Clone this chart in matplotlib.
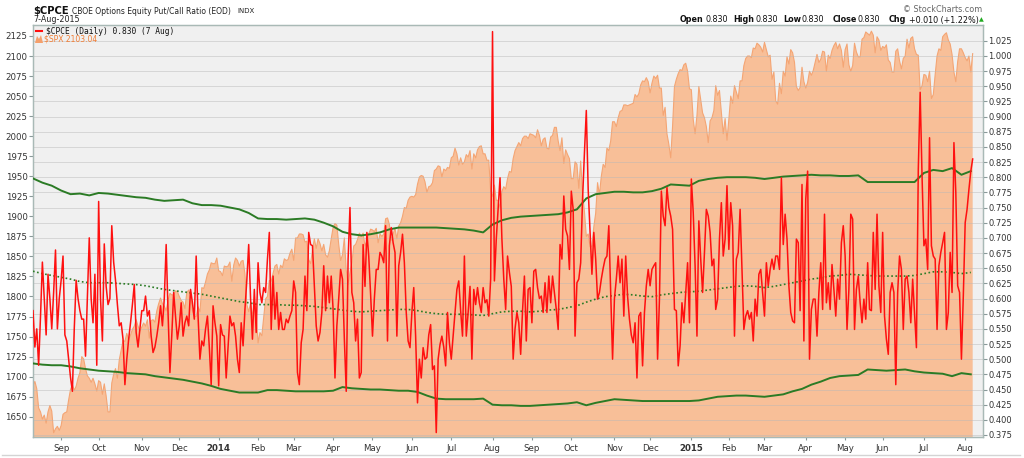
import matplotlib
matplotlib.use("Agg")
import matplotlib.pyplot as plt
from matplotlib.patches import Polygon
from matplotlib.lines import Line2D
import numpy as np
import pandas as pd

# --- calendrier des séances (NYSE) ---
first_day, last_day = "2013-08-12", "2015-08-07"
holidays = ["2013-09-02", "2013-11-28", "2013-12-25", "2014-01-01", "2014-01-20",
            "2014-02-17", "2014-04-18", "2014-05-26", "2014-07-04", "2014-09-01",
            "2014-11-27", "2014-12-25", "2015-01-01", "2015-01-19", "2015-02-16",
            "2015-04-03", "2015-05-25", "2015-07-03"]

# --- $SPX (échelle de gauche), une valeur par séance ---
spx_2013_08 = [1689, 1694, 1685, 1661, 1656, 1647, 1652, 1642, 1656, 1664, 1657, 1630, 1635, 1638, 1633]
spx_2013_09 = [1639, 1653, 1655, 1656, 1671, 1684, 1690, 1683, 1688, 1698, 1705, 1725, 1722, 1710, 1701,
               1698, 1693, 1698, 1691, 1682]
spx_2013_10 = [1695, 1693, 1678, 1691, 1676, 1656, 1656, 1692, 1703, 1710, 1698, 1721, 1733, 1745, 1744,
               1754, 1746, 1752, 1759, 1763, 1771, 1763, 1757]
spx_2013_11 = [1762, 1767, 1763, 1771, 1748, 1770, 1771, 1768, 1782, 1791, 1798, 1791, 1788, 1782, 1795,
               1804, 1802, 1802, 1807, 1806]
spx_2013_12 = [1800, 1795, 1793, 1785, 1805, 1808, 1802, 1782, 1776, 1775, 1787, 1781, 1811, 1810, 1818,
               1828, 1833, 1842, 1841, 1841, 1848]
spx_2014_01 = [1832, 1831, 1826, 1838, 1837, 1838, 1843, 1819, 1839, 1848, 1845, 1838, 1844, 1845, 1828,
               1790, 1781, 1792, 1774, 1794, 1783]
spx_2014_02 = [1742, 1755, 1751, 1774, 1797, 1800, 1820, 1819, 1829, 1838, 1840, 1828, 1839, 1836, 1847,
               1845, 1846, 1854, 1859]
spx_2014_03 = [1845, 1873, 1873, 1878, 1878, 1877, 1868, 1869, 1846, 1841, 1858, 1872, 1860, 1872, 1866,
               1857, 1865, 1852, 1849, 1857, 1872]
spx_2014_04 = [1886, 1891, 1889, 1865, 1845, 1852, 1873, 1833, 1815, 1830, 1842, 1863, 1865, 1871, 1879,
               1875, 1879, 1863, 1869, 1878, 1884]
spx_2014_05 = [1883, 1881, 1885, 1867, 1878, 1875, 1878, 1897, 1898, 1890, 1870, 1878, 1885, 1872, 1888,
               1892, 1900, 1911, 1910, 1920, 1924]
spx_2014_06 = [1925, 1924, 1927, 1940, 1949, 1951, 1950, 1943, 1930, 1937, 1938, 1942, 1957, 1959, 1963,
               1962, 1949, 1959, 1957, 1961, 1960]
spx_2014_07 = [1973, 1975, 1985, 1978, 1964, 1973, 1965, 1968, 1977, 1974, 1982, 1959, 1978, 1973, 1983,
               1987, 1988, 1978, 1978, 1970, 1970, 1931]
spx_2014_08 = [1925, 1939, 1920, 1920, 1910, 1931, 1937, 1934, 1947, 1956, 1955, 1972, 1982, 1987, 1992,
               1988, 1997, 2000, 2000, 1997, 2003]
spx_2014_09 = [2002, 2001, 1998, 2008, 2001, 1988, 1996, 1998, 1985, 1984, 1999, 2001, 2011, 2011, 1994,
               1982, 1998, 1966, 1983, 1977, 1972]
spx_2014_10 = [1947, 1947, 1968, 1965, 1935, 1969, 1928, 1906, 1875, 1878, 1862, 1863, 1887, 1904, 1942,
               1927, 1950, 1965, 1961, 1985, 1982, 1994, 2018]
spx_2014_11 = [2018, 2012, 2023, 2031, 2032, 2039, 2039, 2038, 2039, 2040, 2041, 2052, 2049, 2053, 2064,
               2069, 2068, 2073, 2068]
spx_2014_12 = [2054, 2066, 2075, 2072, 2076, 2060, 2060, 2026, 2036, 2003, 1990, 1973, 2013, 2062, 2071,
               2078, 2083, 2082, 2089, 2091, 2081, 2059]
spx_2015_01 = [2058, 2021, 2003, 2026, 2062, 2045, 2029, 2023, 2012, 1992, 2019, 2023, 2032, 2063, 2051,
               2057, 2030, 2003, 2022, 1995]
spx_2015_02 = [2021, 2050, 2041, 2063, 2055, 2047, 2069, 2069, 2088, 2097, 2100, 2100, 2098, 2110, 2109,
               2116, 2114, 2111, 2105]
spx_2015_03 = [2117, 2108, 2099, 2101, 2071, 2080, 2044, 2040, 2066, 2053, 2081, 2075, 2099, 2090, 2108,
               2104, 2092, 2062, 2057, 2061, 2086, 2068]
spx_2015_04 = [2060, 2067, 2081, 2076, 2082, 2092, 2102, 2092, 2096, 2106, 2105, 2081, 2101, 2097, 2107,
               2113, 2117, 2109, 2115, 2107, 2086]
spx_2015_05 = [2108, 2115, 2089, 2081, 2088, 2116, 2105, 2099, 2099, 2121, 2123, 2130, 2128, 2126, 2131,
               2126, 2104, 2124, 2120, 2107]
spx_2015_06 = [2112, 2110, 2114, 2095, 2092, 2080, 2080, 2106, 2109, 2094, 2084, 2097, 2100, 2121, 2110,
               2122, 2124, 2109, 2102, 2101, 2058, 2063]
spx_2015_07 = [2077, 2076, 2068, 2081, 2047, 2052, 2077, 2100, 2109, 2107, 2124, 2127, 2129, 2120, 2115,
               2102, 2080, 2068, 2093, 2109, 2109, 2104]
spx_2015_08 = [2098, 2094, 2100, 2080, 2103]

# --- $CPCE (échelle de droite), une valeur par séance ---
cpce_2013_08 = [.58, .52, .55, .49, .57, .66, .60, .54, .64, .60, .55, .61, .68, .55, .60]
cpce_2013_09 = [.63, .67, .54, .53, .50, .47, .447, .55, .63, .60, .58, .566, .566, .505, .60, .70, .60,
                .56, .64, .49]
cpce_2013_10 = [.76, .60, .53, .69, .62, .59, .60, .72, .66, .63, .59, .555, .56, .533, .458, .50, .533,
                .56, .59, .623, .544, .52, .55]
cpce_2013_11 = [.58, .58, .604, .571, .58, .538, .511, .52, .538, .56, .588, .555, .60, .689, .577, .478,
                .54, .61, .57, .533]
cpce_2013_12 = [.555, .593, .538, .56, .571, .555, .615, .593, .566, .67, .571, .50, .53, .522, .55, .571,
                .52, .458, .588, .56, .538]
cpce_2014_01 = [.456, .557, .54, .538, .469, .52, .571, .555, .56, .538, .50, .478, .56, .522, .582, .63,
                .689, .60, .533, .615, .544]
cpce_2014_02 = [.659, .61, .593, .618, .61, .665, .709, .549, .637, .566, .61, .549, .577, .549, .549,
                .566, .56, .571, .58]
cpce_2014_03 = [.629, .61, .478, .458, .527, .549, .637, .58, .709, .689, .687, .62, .555, .53, .544, .577,
                .654, .58, .637, .593, .637]
cpce_2014_04 = [.582, .469, .555, .60, .648, .632, .533, .447, .665, .75, .61, .593, .53, .566, .469, .478,
                .689, .62, .709, .67, .607]
cpce_2014_05 = [.538, .60, .648, .648, .676, .670, .659, .72, .53, .687, .717, .692, .676, .538, .654,
                .676, .706, .659, .577, .53, .519]
cpce_2014_06 = [.577, .618, .538, .428, .50, .469, .519, .50, .503, .54, .557, .483, .489, .379, .50, .524,
                .538, .52, .489, .577, .527]
cpce_2014_07 = [.50, .538, .577, .615, .629, .58, .538, .670, .538, .577, .62, .50, .615, .59, .618, .593,
                .577, .618, .593, .598, .571, .632]
cpce_2014_08 = [1.04, .629, .698, .75, .799, .698, .632, .582, .67, .643, .62, .50, .55, .577, .56, .508,
                .58, .637, .53, .615, .618]
cpce_2014_09 = [.56, .645, .648, .618, .60, .604, .577, .626, .577, .637, .593, .637, .61, .582, .549,
                .689, .665, .769, .714, .703, .648]
cpce_2014_10 = [.777, .747, .538, .626, .632, .659, .764, .84, .91, .78, .709, .64, .709, .665, .599, .61,
                .632, .65, .665, .67, .72, .61, .50]
cpce_2014_11 = [.60, .632, .67, .626, .665, .571, .67, .604, .566, .54, .527, .56, .469, .571, .577, .489,
                .577, .621, .648]
cpce_2014_12 = [.621, .648, .654, .659, .50, .599, .777, .736, .72, .783, .75, .736, .714, .582, .58, .489,
                .522, .593, .56, .61, .659, .56]
cpce_2015_01 = [.797, .742, .654, .538, .728, .665, .61, .676, .747, .736, .709, .654, .665, .582, .599,
                .698, .758, .67, .698, .786]
cpce_2015_02 = [.681, .758, .72, .538, .665, .676, .747, .648, .549, .571, .58, .566, .577, .53, .599,
                .571, .64, .648, .61]
cpce_2015_03 = [.571, .659, .621, .648, .665, .648, .67, .67, .648, .799, .689, .739, .698, .621, .577,
                .563, .56, .698, .692, .58, .788, .53]
cpce_2015_04 = [.764, .81, .50, .582, .599, .599, .538, .61, .659, .582, .739, .593, .626, .582, .656,
                .615, .571, .632, .599, .692, .72]
cpce_2015_05 = [.67, .549, .615, .739, .731, .549, .615, .637, .593, .56, .599, .566, .659, .582, .58,
                .709, .615, .739, .621, .577]
cpce_2015_06 = [.709, .571, .533, .508, .61, .626, .61, .458, .61, .67, .648, .549, .632, .637, .61, .56,
                .632, .577, .519, .813, .94, .802]
cpce_2015_07 = [.687, .698, .648, .865, .687, .67, .665, .549, .654, .676, .692, .709, .549, .577, .676,
                .61, .857, .775, .621, .61, .50, .604]
cpce_2015_08 = [.725, .747, .78, .81, .83]

# --- bandes (lues toutes les 5 séances) ---
band_step = 5
upper_band = [.798, .791, .786, .778, .772, .773, .770, .774, .773, .771, .769, .767, .766, .763, .761,
              .762, .763, .757, .754, .754, .753, .750, .747, .741, .732, .731, .731, .730, .731, .732,
              .730, .725, .719, .710, .706, .704, .706, .709, .714, .717, .717, .717, .717, .717, .716,
              .715, .714, .712, .709, .722, .729, .733, .735, .736, .737, .738, .739, .742, .747, .765,
              .772, .774, .776, .776, .775, .775, .777, .781, .788, .787, .786, .794, .797, .799, .800,
              .800, .800, .799, .797, .799, .801, .802, .803, .804, .803, .803, .802, .802, .803, .792,
              .792, .792, .792, .792, .792, .807, .812, .810, .815, .804, .810]
mid_band = [.645, .641, .638, .635, .632, .628, .626, .626, .626, .625, .624, .623, .621, .618, .615,
            .613, .611, .609, .607, .604, .601, .598, .595, .593, .590, .590, .590, .589, .589, .588,
            .587, .585, .583, .581, .579, .578, .579, .580, .581, .582, .582, .580, .577, .575, .574,
            .574, .574, .573, .572, .575, .578, .579, .579, .578, .579, .581, .582, .585, .588, .594,
            .599, .603, .605, .607, .606, .604, .603, .606, .608, .610, .611, .612, .614, .616, .618,
            .620, .621, .620, .618, .620, .623, .626, .629, .632, .634, .637, .638, .640, .639, .638,
            .637, .637, .637, .637, .638, .641, .644, .644, .643, .641, .643]
lower_band = [.493, .491, .490, .490, .488, .485, .483, .481, .480, .479, .477, .476, .475, .472, .470,
              .468, .466, .463, .460, .456, .451, .448, .445, .445, .445, .449, .449, .448, .447, .447,
              .447, .447, .448, .454, .452, .451, .450, .450, .449, .448, .448, .446, .440, .435, .434,
              .434, .434, .434, .435, .425, .424, .424, .423, .423, .424, .425, .426, .427, .429, .424,
              .428, .431, .434, .433, .432, .431, .431, .431, .431, .431, .431, .432, .435, .438, .439,
              .440, .440, .439, .438, .440, .442, .447, .451, .458, .463, .469, .472, .473, .474, .483,
              .482, .481, .482, .483, .480, .478, .477, .476, .472, .477, .475]

spx = np.concatenate([spx_2013_08, spx_2013_09, spx_2013_10, spx_2013_11, spx_2013_12,
                      spx_2014_01, spx_2014_02, spx_2014_03, spx_2014_04, spx_2014_05, spx_2014_06,
                      spx_2014_07, spx_2014_08, spx_2014_09, spx_2014_10, spx_2014_11, spx_2014_12,
                      spx_2015_01, spx_2015_02, spx_2015_03, spx_2015_04, spx_2015_05, spx_2015_06,
                      spx_2015_07, spx_2015_08])
cpce = np.concatenate([cpce_2013_08, cpce_2013_09, cpce_2013_10, cpce_2013_11, cpce_2013_12,
                       cpce_2014_01, cpce_2014_02, cpce_2014_03, cpce_2014_04, cpce_2014_05, cpce_2014_06,
                       cpce_2014_07, cpce_2014_08, cpce_2014_09, cpce_2014_10, cpce_2014_11, cpce_2014_12,
                       cpce_2015_01, cpce_2015_02, cpce_2015_03, cpce_2015_04, cpce_2015_05, cpce_2015_06,
                       cpce_2015_07, cpce_2015_08])

sessions = pd.bdate_range(first_day, last_day)
sessions = sessions[~sessions.isin(pd.to_datetime(holidays))]
x_spx = np.arange(len(spx))
x_cpce = np.arange(len(cpce))
x_band = np.arange(len(upper_band)) * band_step

# repères de mois (début de chaque mois)
month_idx = [i for i in range(1, len(sessions)) if sessions[i].month != sessions[i - 1].month]
month_lbl = [str(sessions[i].year) if sessions[i].month == 1 else sessions[i].strftime("%b")
             for i in month_idx]

W, H = 1024, 458
def fx(x):
    return x / W
def fy(y):
    return 1 - y / H

fig = plt.figure(figsize=(W / 100, H / 100), dpi=100)
fig.patch.set_facecolor("white")
ax1 = fig.add_axes([fx(33), fy(437), 950 / W, 412 / H])
ax1.set_facecolor("#f0f0f0")
ax2 = ax1.twinx()

# aire SPX
ax1.fill_between(x_spx, spx, 1500, color="#f8bf98", lw=0, zorder=2)
ax1.plot(x_spx, spx, color="#f4a574", lw=0.8, zorder=3)
ax1.set_ylim(1624.7, 2138.7)
ax1.set_xlim(0, 506.5)

# CPCE + bandes
ax2.plot(x_band, upper_band, color="#2b7b25", lw=1.4, zorder=3)
ax2.plot(x_band, lower_band, color="#2b7b25", lw=1.4, zorder=3)
ax2.plot(x_band, mid_band, color="#2b7b25", lw=1.2, ls=(0, (1, 1.5)), zorder=3)
ax2.plot(x_cpce, cpce, color="#ff1010", lw=1.1, zorder=4)
ax2.set_ylim(0.3717, 1.0509)

# graduations
ax1.set_yticks(np.arange(1650, 2126, 25))
ax2.set_yticks(np.arange(0.375, 1.026, 0.025))
ax2.set_yticklabels([f"{v:.3f}" for v in np.arange(0.375, 1.026, 0.025)])
ax1.set_xticks(month_idx)
ax1.set_xticklabels(month_lbl)
for t in ax1.get_xticklabels():
    if t.get_text().isdigit():
        t.set_fontweight("bold")
        t.set_fontsize(6.8)

ax1.tick_params(axis="y", labelsize=6.2, colors="#333333", length=3, pad=1, color="#8a9a9a")
ax2.tick_params(axis="y", labelsize=6.0, colors="#333333", length=3, pad=1, color="#8a9a9a")
ax1.tick_params(axis="x", labelsize=6.2, colors="#333333", length=2, pad=3, color="#8a9a9a")

ax2.grid(True, which="major", axis="both", color="#b8b8b8", lw=0.6, alpha=0.55, zorder=1)
ax1.grid(False)
for ax in (ax1, ax2):
    for s in ax.spines.values():
        s.set_color("#a9b9b6")
        s.set_linewidth(0.9)

# en-tête
fig.text(fx(33), fy(11), r"\$CPCE", fontsize=7.2, fontweight="bold", va="center", color="#111111")
fig.text(fx(72), fy(11), "CBOE Options Equity Put/Call Ratio (EOD)", fontsize=5.5, va="center",
         color="#222222")
fig.text(fx(237), fy(11), "INDX", fontsize=5.0, va="center", color="#222222")
fig.text(fx(33), fy(20), "7-Aug-2015", fontsize=5.8, va="center", color="#222222")
fig.text(fx(982), fy(9), "© StockCharts.com", fontsize=5.8, va="center", ha="right", color="#666666")

hdr = [("Open", True, 680), ("0.830", False, 705), ("High", True, 733), ("0.830", False, 755),
       ("Low", True, 783), ("0.830", False, 802), ("Close", True, 833), ("0.830", False, 858),
       ("Chg", True, 889), ("+0.010 (+1.22%)", False, 909)]
for txt, bold, xp in hdr:
    fig.text(fx(xp), fy(20), txt, fontsize=5.8, va="center", color="#111111",
             fontweight="bold" if bold else "normal")
fig.text(fx(979), fy(20), "▲", fontsize=4.5, va="center", color="#22aa22")

# légende
fig.add_artist(Line2D([fx(36), fx(42)], [fy(31), fy(31)], color="#ff1010", lw=1.5))
fig.text(fx(46), fy(31), r"\$CPCE (Daily) 0.830 (7 Aug)", fontsize=5.7, va="center",
         family="DejaVu Sans Mono", color="#111111")
fig.add_artist(Polygon([[fx(35), fy(43)], [fx(37), fy(36)], [fx(39), fy(39)], [fx(41), fy(35)],
                        [fx(43), fy(43)]], closed=True, color="#f5a06c", lw=0))
fig.text(fx(44), fy(39), r"\$SPX 2103.04", fontsize=5.5, va="center", color="#f07d35")

# bas de page
fig.add_artist(Line2D([fx(2), fx(1020)], [fy(455), fy(455)], color="#d4d4d4", lw=1.0))

fig.savefig("out.png", dpi=100)
plt.close(fig)
